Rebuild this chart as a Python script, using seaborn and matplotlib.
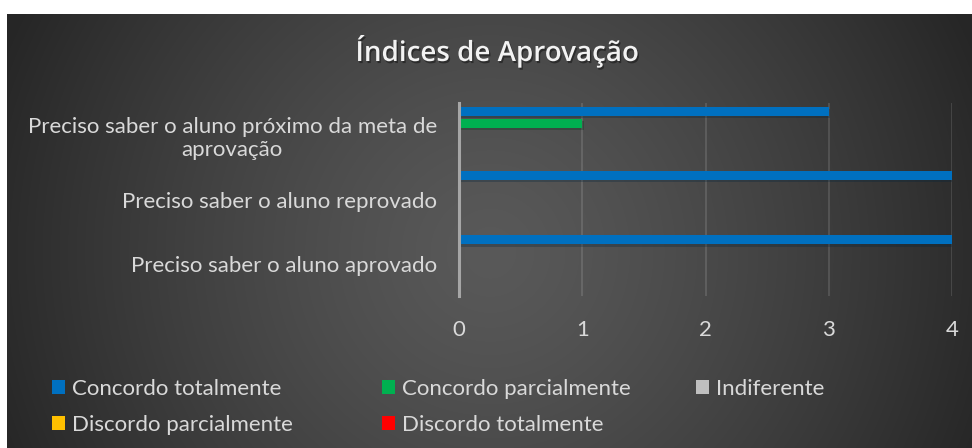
import numpy as np
import pandas as pd
import matplotlib
matplotlib.use("Agg")
import matplotlib.pyplot as plt
import matplotlib.patheffects as pe
import seaborn as sns

# ---- data ----
categories = [
    "Preciso saber o aluno próximo da meta de\naprovação",
    "Preciso saber o aluno reprovado",
    "Preciso saber o aluno aprovado",
]
series = ["Concordo totalmente", "Concordo parcialmente", "Indiferente",
          "Discordo parcialmente", "Discordo totalmente"]
concordo_totalmente = [3, 4, 4]
concordo_parcialmente = [1, 0, 0]
indiferente = [0, 0, 0]
discordo_parcialmente = [0, 0, 0]
discordo_totalmente = [0, 0, 0]
x_ticks = [0, 1, 2, 3, 4]
colors = ["#0070C0", "#00B050", "#BFBFBF", "#FFC000", "#FF0000"]
title = "Índices de Aprovação"

values = [concordo_totalmente, concordo_parcialmente, indiferente,
          discordo_parcialmente, discordo_totalmente]
rows = []
for s, vals in zip(series, values):
    for c, v in zip(categories, vals):
        rows.append({"cat": c, "serie": s, "valor": v})
df = pd.DataFrame(rows)

sns.set_theme(style="white")
plt.rcParams["font.family"] = ["Lato", "DejaVu Sans"]

W, H = 972, 448
fig = plt.figure(figsize=(W / 100, H / 100), dpi=100)
fig.patch.set_facecolor("white")

# background radial gradient panel
bx0, by0 = 7, 14
bw, bh = W - bx0, H - by0
bg = fig.add_axes([bx0 / W, 0, bw / W, bh / H], zorder=-10)
yy, xx = np.mgrid[0:bh, 0:bw]
cx, cy = bw * 0.5, bh * 0.55
R = np.sqrt((bw / 2) ** 2 + (bh / 2) ** 2)
r = np.clip(np.sqrt((xx - cx) ** 2 + (yy - cy) ** 2) / R, 0, 1)
c0, c1 = 0x59 / 255, 0x26 / 255
val = c0 + (c1 - c0) * r ** 1.3
img = np.dstack([val, val, val])
bg.imshow(img, aspect="auto", extent=[0, 1, 0, 1], origin="upper")
bg.set_axis_off()

# main axes
px0, px1 = 459, 952
py0, py1 = 103, 296
ax = fig.add_axes([px0 / W, 1 - py1 / H, (px1 - px0) / W, (py1 - py0) / H])
ax.set_facecolor("none")

sns.barplot(data=df, y="cat", x="valor", hue="serie", order=categories,
            hue_order=series, palette=colors, orient="h", width=0.9375,
            gap=0.25, ax=ax, saturation=1, legend=True, errorbar=None,
            linewidth=0, edgecolor="none")

for p in ax.patches:
    p.set_linewidth(0)
    p.set_path_effects([pe.SimplePatchShadow(offset=(1.0, -1.8), alpha=0.28),
                        pe.Normal()])

ax.set_xlim(0, 4)
ax.set_xticks(x_ticks)
ax.set_xticklabels([str(t) for t in x_ticks])
ax.set_xlabel("")
ax.set_ylabel("")
ax.grid(axis="x", color="white", alpha=0.12, linewidth=1.5)
ax.grid(axis="y", visible=False)
ax.set_axisbelow(True)
for s in ["top", "right", "bottom"]:
    ax.spines[s].set_visible(False)
ax.spines["left"].set_color("#A6A6A6")
ax.spines["left"].set_linewidth(2.2)
ax.tick_params(axis="x", length=0, pad=17, labelsize=16, labelcolor="#D9D9D9")
ax.tick_params(axis="y", length=0, pad=16, labelsize=16, labelcolor="#D9D9D9")

# legend (three columns placed individually)
handles, labels = ax.get_legend_handles_labels()
ax.get_legend().remove()
for h in handles:
    h.set_linewidth(0)
    h.set_path_effects([])
columns = [([0, 3], 52), ([1, 4], 382), ([2], 696)]
for idx, xpos in columns:
    fig.legend([handles[i] for i in idx], [labels[i] for i in idx],
               loc="upper left", bbox_to_anchor=(xpos / W, 1 - 379 / H),
               ncol=1, frameon=False, fontsize=16, labelcolor="#D9D9D9",
               handlelength=0.6, handleheight=0.6, handletextpad=0.3,
               labelspacing=0.72, borderpad=0, borderaxespad=0)

fig.text(497 / W, 1 - 51 / H, title, ha="center", va="center",
         fontsize=20, fontweight="semibold", color="#F2F2F2",
         family=["Open Sans", "DejaVu Sans"],
         path_effects=[pe.withSimplePatchShadow(offset=(1.0, -1.5), alpha=0.4,
                                                shadow_rgbFace="black")])

fig.canvas.draw()
for lab in ax.get_yticklabels():
    lab.set_multialignment("center")

fig.savefig("out.png", dpi=100)
